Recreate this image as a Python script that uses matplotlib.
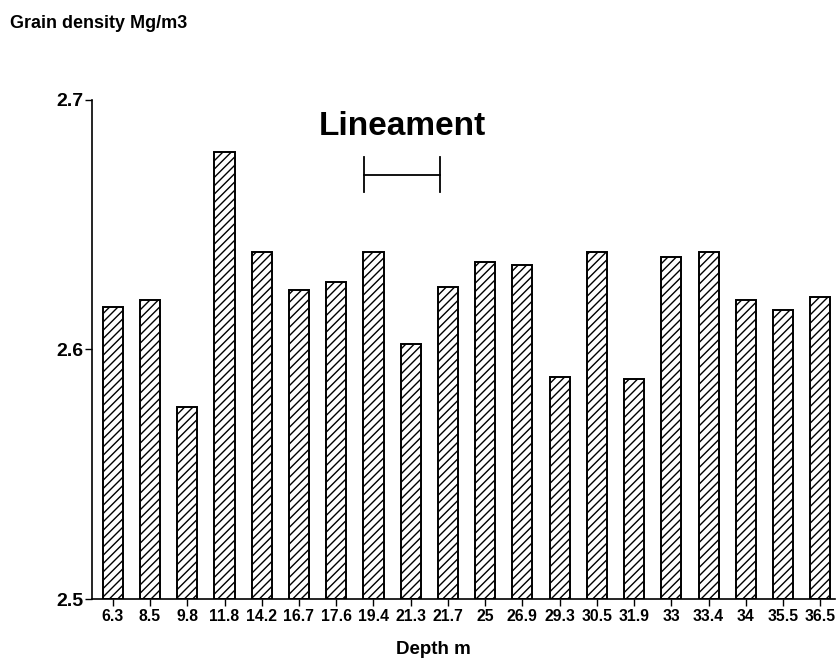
import matplotlib
matplotlib.use("Agg")
import matplotlib.pyplot as plt

# Depth labels (m) and grain density (Mg/m3)
DEPTHS = ["6.3", "8.5", "9.8", "11.8", "14.2", "16.7", "17.6", "19.4", "21.3", "21.7",
          "25", "26.9", "29.3", "30.5", "31.9", "33", "33.4", "34", "35.5", "36.5"]
DENSITY = [2.617, 2.620, 2.577, 2.679, 2.639, 2.624, 2.627, 2.639, 2.602, 2.625,
           2.635, 2.634, 2.589, 2.639, 2.588, 2.637, 2.639, 2.620, 2.616, 2.621]
LINEAMENT_SPAN = (6.75, 8.8)  # in bar-index units
LINEAMENT_Y = 2.670

FONT = ["Liberation Sans", "DejaVu Sans"]
plt.rcParams["font.family"] = FONT
plt.rcParams["font.weight"] = "bold"
plt.rcParams["hatch.linewidth"] = 1.0

fig = plt.figure(figsize=(8.36, 6.66), dpi=100)
ax = fig.add_axes([0.110, 0.1006, 0.889, 0.7494])

x = list(range(len(DEPTHS)))
ax.bar(x, [d - 2.5 for d in DENSITY], bottom=2.5, width=0.54,
       color="white", edgecolor="black", linewidth=1.4, hatch="////")

ax.set_xlim(-0.56, 19.4)
ax.set_ylim(2.5, 2.7)
ax.set_yticks([2.5, 2.6, 2.7])
ax.set_yticklabels(["2.5", "2.6", "2.7"], fontsize=14, fontweight="bold", family=FONT)
ax.set_xticks(x)
ax.set_xticklabels(DEPTHS, fontsize=11.3, fontweight="bold", family=FONT)
ax.tick_params(axis="both", length=5, width=1, direction="out", pad=2)
ax.tick_params(axis="y", pad=1)

for s in ("top", "right"):
    ax.spines[s].set_visible(False)
ax.spines["left"].set_linewidth(1.2)
ax.spines["bottom"].set_linewidth(1.2)

ax.set_xlabel("Depth m", fontsize=13.5, fontweight="bold")
ax.xaxis.set_label_coords(0.46, -0.085)
fig.text(0.012, 0.965, "Grain density Mg/m3", fontsize=13, fontweight="bold",
         ha="left", va="center")

# Lineament bracket
x0, x1 = LINEAMENT_SPAN
ax.plot([x0, x1], [LINEAMENT_Y, LINEAMENT_Y], color="black", linewidth=1.3)
for xe in (x0, x1):
    ax.plot([xe, xe], [LINEAMENT_Y - 0.007, LINEAMENT_Y + 0.007], color="black", linewidth=1.3)
ax.text((x0 + x1) / 2, 2.6895, "Lineament", fontsize=24, fontweight="bold",
        ha="center", va="center")

fig.savefig("out.png", dpi=100)
